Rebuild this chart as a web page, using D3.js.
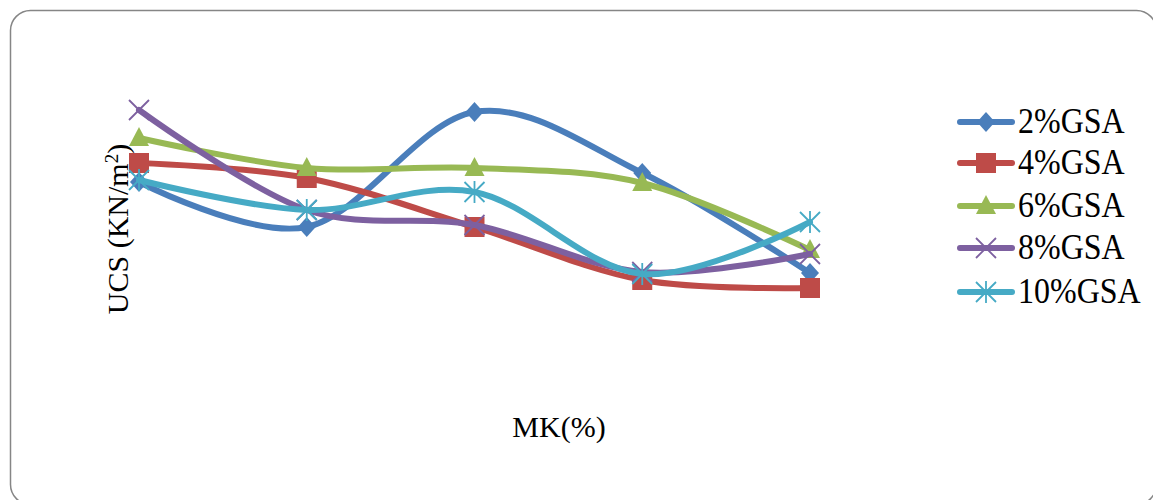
<!DOCTYPE html>
<html><head><meta charset="utf-8">
<script src="https://cdn.jsdelivr.net/npm/d3@7"></script>
<style>body{margin:0;background:#fff}svg{display:block}</style>
</head><body>
<script>
// Data (UCS values in KN/m²; no tick labels shown)
const categories = ["0", "2", "4", "6", "8"];
const seriesNames = ["2%GSA", "4%GSA", "6%GSA", "8%GSA", "10%GSA"];
const s2 = [218, 173, 288, 227, 127];
const s4 = [237, 222, 173, 120, 112];
const s6 = [262, 232, 232, 217, 150];
const s8 = [290, 190, 175, 128, 146];
const s10 = [220, 190, 208, 126, 178];
const colors = ["#4A7EBB", "#BE4B48", "#98B954", "#7D60A0", "#46AAC5"];
const markers = ["diamond", "square", "triangle", "x", "star"];
const seriesValues = [s2, s4, s6, s8, s10];

const W = 1153, H = 500;
const svg = d3.select("body").append("svg").attr("width", W).attr("height", H);
svg.append("rect").attr("width", W).attr("height", H).attr("fill", "#fff");
svg.append("rect").attr("x", 10.5).attr("y", 10.5).attr("width", 1146).attr("height", 494)
  .attr("rx", 20).attr("ry", 20).attr("fill", "#fff").attr("stroke", "#868686").attr("stroke-width", 1.5);

const x = d3.scalePoint().domain(categories).range([139, 810]);
const y = d3.scaleLinear().domain([0, 350]).range([400, 50]);

const line = d3.line().x((d, i) => x(categories[i])).y(d => y(d)).curve(d3.curveCatmullRom.alpha(0));

function drawMarker(g, type, cx, cy, color) {
  if (type === "diamond") {
    g.append("path").attr("d", `M${cx},${cy-10}L${cx+9},${cy}L${cx},${cy+10}L${cx-9},${cy}Z`).attr("fill", color);
  } else if (type === "square") {
    g.append("rect").attr("x", cx-10).attr("y", cy-10).attr("width", 20).attr("height", 20).attr("fill", color);
  } else if (type === "triangle") {
    g.append("path").attr("d", `M${cx},${cy-11}L${cx+10},${cy+8}L${cx-10},${cy+8}Z`).attr("fill", color);
  } else if (type === "x") {
    g.append("path").attr("d", `M${cx-10},${cy-10}L${cx+10},${cy+10}M${cx+10},${cy-10}L${cx-10},${cy+10}`)
      .attr("stroke", color).attr("stroke-width", 1.8);
  } else if (type === "star") {
    g.append("path").attr("d", `M${cx-10},${cy-10}L${cx+10},${cy+10}M${cx+10},${cy-10}L${cx-10},${cy+10}M${cx},${cy-11}L${cx},${cy+11}`)
      .attr("stroke", color).attr("stroke-width", 1.8);
  }
}

seriesValues.forEach((vals, si) => {
  const g = svg.append("g");
  g.append("path").attr("d", line(vals)).attr("fill", "none").attr("stroke", colors[si])
    .attr("stroke-width", 6).attr("stroke-linecap", "round").attr("stroke-linejoin", "round");
  vals.forEach((v, i) => drawMarker(g, markers[si], x(categories[i]), y(v), colors[si]));
});

// Axis titles
svg.append("text").attr("x", 559).attr("y", 437).attr("text-anchor", "middle")
  .attr("font-family", "Liberation Serif, Times New Roman, serif").attr("font-size", 30).attr("fill", "#000")
  .text("MK(%)");
const yt = svg.append("text").attr("transform", "translate(128,229) rotate(-90)").attr("text-anchor", "middle")
  .attr("font-family", "Liberation Serif, Times New Roman, serif").attr("font-size", 30).attr("fill", "#000");
yt.append("tspan").text("UCS (KN/m");
yt.append("tspan").attr("dy", -10).attr("font-size", 19).text("2");
yt.append("tspan").attr("dy", 10).text(")");

// Legend
const legendY = [122, 163, 206, 248, 292];
seriesNames.forEach((name, i) => {
  const g = svg.append("g");
  g.append("line").attr("x1", 960).attr("x2", 1012).attr("y1", legendY[i]).attr("y2", legendY[i])
    .attr("stroke", colors[i]).attr("stroke-width", 6).attr("stroke-linecap", "round");
  drawMarker(g, markers[i], 986, legendY[i], colors[i]);
  g.append("text").attr("transform", `translate(1018,${legendY[i] + 11}) scale(1,1.1)`)
    .attr("font-family", "Liberation Serif, Times New Roman, serif").attr("font-size", 32).attr("fill", "#000")
    .text(name);
});
</script>
</body></html>
